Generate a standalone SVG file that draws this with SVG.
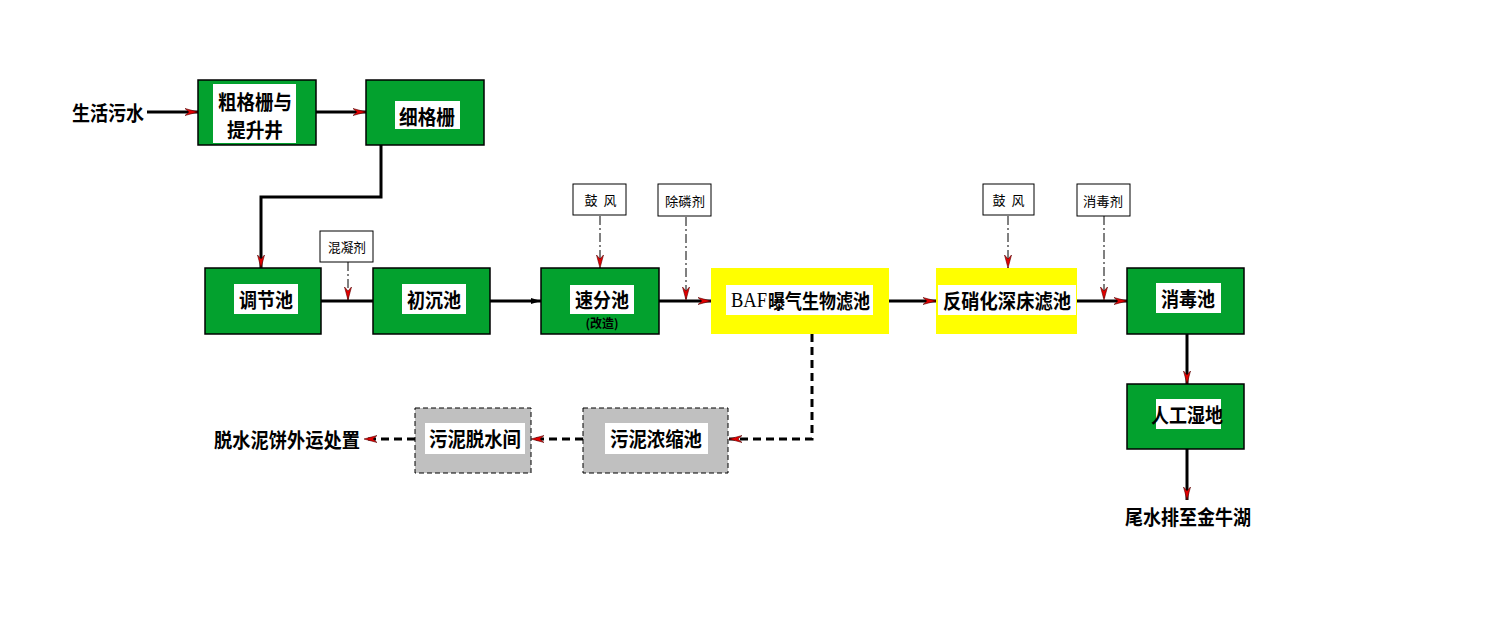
<svg xmlns="http://www.w3.org/2000/svg" width="1504" height="639" viewBox="0 0 1504 639">
<style>
.g{fill:#03A12E;stroke:#000;stroke-width:1.5}
.y{fill:#FFFF00;stroke:none}
.gr{fill:#C0C0C0;stroke:#000;stroke-width:1;stroke-dasharray:5 3}
.lb{fill:#fff;stroke:none}
.sb{fill:#fff;stroke:#000;stroke-width:1}
.t{font-family:"Noto Sans CJK SC","Noto Sans CJK JP",sans-serif;font-weight:700;font-size:20px;fill:#000;text-anchor:middle;dominant-baseline:central}
.s{font-family:"Noto Sans CJK SC","Noto Sans CJK JP",sans-serif;font-weight:400;font-size:13px;fill:#000;text-anchor:middle;dominant-baseline:central}
.f{fill:none;stroke:#000;stroke-width:3}
.d{fill:none;stroke:#000;stroke-width:1;stroke-dasharray:9 3 2 3}
.sl{fill:none;stroke:#000;stroke-width:3;stroke-dasharray:8 5}
</style>
<defs>
<marker id="a" viewBox="0 0 13 8" refX="13" refY="4" markerWidth="13" markerHeight="8" markerUnits="userSpaceOnUse" orient="auto">
<path d="M0,0.5 L13,4 L0,7.5 L4,4 Z" fill="#E00000" stroke="#500" stroke-width="0.6"/>
</marker>
<marker id="k" viewBox="0 0 10 8" refX="10" refY="4" markerWidth="10" markerHeight="8" markerUnits="userSpaceOnUse" orient="auto">
<path d="M0,1 L10,4 L0,7 Z" fill="#000"/>
</marker>
</defs>

<g id="connectors">
<path class="f" d="M147,112 H198" marker-end="url(#a)"/>
<path class="f" d="M316,112 H366" marker-end="url(#a)"/>
<path class="f" d="M381,145 V197 H261 V268" marker-end="url(#a)"/>
<path class="f" d="M321,301 H373"/>
<path class="d" d="M348,262 V300" marker-end="url(#a)"/>
<path class="f" d="M490,301 H541" marker-end="url(#k)"/>
<path class="d" d="M600,216 V268" marker-end="url(#a)"/>
<path class="f" d="M659,301 H711" marker-end="url(#a)"/>
<path class="d" d="M686,217 V300" marker-end="url(#a)"/>
<path class="f" d="M889,301 H936" marker-end="url(#a)"/>
<path class="d" d="M1008,216 V268" marker-end="url(#a)"/>
<path class="f" d="M1077,301 H1127" marker-end="url(#a)"/>
<path class="d" d="M1104,216 V300" marker-end="url(#a)"/>
<path class="f" d="M1187,334 V384" marker-end="url(#a)"/>
<path class="f" d="M1187,449 V500" marker-end="url(#a)"/>
<path class="sl" d="M812,334 V439 H729" marker-end="url(#a)"/>
<path class="sl" d="M583,439 H531" marker-end="url(#a)"/>
<path class="sl" d="M415,439 H364" marker-end="url(#a)"/>
</g>

<g id="n-source"><text class="t" x="108" y="112" textLength="72" lengthAdjust="spacingAndGlyphs">生活污水</text></g>

<g id="n-coarse">
<rect class="g" x="198" y="80" width="118" height="65"/>
<rect class="lb" x="213" y="84" width="83" height="59"/>
<text class="t" x="255" y="101" textLength="74" lengthAdjust="spacingAndGlyphs">粗格栅与</text>
<text class="t" x="255" y="129" textLength="56" lengthAdjust="spacingAndGlyphs">提升井</text>
</g>

<g id="n-fine">
<rect class="g" x="366" y="80" width="118" height="65"/>
<rect class="lb" x="395" y="101" width="65" height="28"/>
<text class="t" x="427" y="116" textLength="56" lengthAdjust="spacingAndGlyphs">细格栅</text>
</g>

<g id="n-equal">
<rect class="g" x="205" y="268" width="116" height="66"/>
<rect class="lb" x="234" y="284" width="64" height="30"/>
<text class="t" x="266" y="299" textLength="54" lengthAdjust="spacingAndGlyphs">调节池</text>
</g>

<g id="n-coag">
<rect class="sb" x="320" y="231" width="53" height="31"/>
<text class="s" x="347" y="246" textLength="38" lengthAdjust="spacingAndGlyphs">混凝剂</text>
</g>

<g id="n-primary">
<rect class="g" x="373" y="268" width="117" height="66"/>
<rect class="lb" x="402" y="284" width="64" height="30"/>
<text class="t" x="434" y="299" textLength="54" lengthAdjust="spacingAndGlyphs">初沉池</text>
</g>

<g id="n-air1">
<rect class="sb" x="573" y="184" width="53" height="31"/>
<text class="s" x="591" y="199">鼓</text>
<text class="s" x="610" y="199">风</text>
</g>

<g id="n-fast">
<rect class="g" x="541" y="268" width="118" height="66"/>
<rect class="lb" x="570" y="285" width="64" height="29"/>
<text class="t" x="602" y="299" textLength="54" lengthAdjust="spacingAndGlyphs">速分池</text>
<text class="s" x="602" y="322" style="font-weight:700;font-size:12px">(改造)</text>
</g>

<g id="n-phos">
<rect class="sb" x="658" y="184" width="53" height="32"/>
<text class="s" x="685" y="200" textLength="40" lengthAdjust="spacingAndGlyphs">除磷剂</text>
</g>

<g id="n-baf">
<rect class="y" x="711" y="268" width="178" height="66"/>
<rect class="lb" x="726" y="285" width="147" height="30"/>
<text x="731" y="307" style="font-family:'Liberation Serif',serif;font-size:20px;fill:#000" textLength="36" lengthAdjust="spacingAndGlyphs">BAF</text>
<text class="t" x="819" y="300" textLength="102" lengthAdjust="spacingAndGlyphs">曝气生物滤池</text>
</g>

<g id="n-air2">
<rect class="sb" x="983" y="184" width="51" height="31"/>
<text class="s" x="999" y="199">鼓</text>
<text class="s" x="1018" y="199">风</text>
</g>

<g id="n-denit">
<rect class="y" x="936" y="268" width="141" height="66"/>
<rect class="lb" x="938" y="285" width="138" height="30"/>
<text class="t" x="1007" y="300" textLength="128" lengthAdjust="spacingAndGlyphs">反硝化深床滤池</text>
</g>

<g id="n-disinf-agent">
<rect class="sb" x="1077" y="184" width="53" height="32"/>
<text class="s" x="1103" y="200" textLength="40" lengthAdjust="spacingAndGlyphs">消毒剂</text>
</g>

<g id="n-disinf">
<rect class="g" x="1127" y="268" width="117" height="66"/>
<rect class="lb" x="1156" y="283" width="65" height="30"/>
<text class="t" x="1188" y="298" textLength="54" lengthAdjust="spacingAndGlyphs">消毒池</text>
</g>

<g id="n-wetland">
<rect class="g" x="1127" y="384" width="117" height="65"/>
<rect class="lb" x="1156" y="399" width="65" height="30"/>
<text class="t" x="1187" y="414" textLength="72" lengthAdjust="spacingAndGlyphs">人工湿地</text>
</g>

<g id="n-outlet"><text class="t" x="1188" y="516" textLength="126" lengthAdjust="spacingAndGlyphs">尾水排至金牛湖</text></g>

<g id="n-thicken">
<rect class="gr" x="583" y="408" width="145" height="65"/>
<rect class="lb" x="605" y="423" width="103" height="31"/>
<text class="t" x="656" y="438" textLength="92" lengthAdjust="spacingAndGlyphs">污泥浓缩池</text>
</g>

<g id="n-dewater">
<rect class="gr" x="415" y="408" width="116" height="65"/>
<rect class="lb" x="425" y="423" width="100" height="31"/>
<text class="t" x="475" y="438" textLength="92" lengthAdjust="spacingAndGlyphs">污泥脱水间</text>
</g>

<g id="n-cake"><text class="t" x="287" y="439" textLength="146" lengthAdjust="spacingAndGlyphs">脱水泥饼外运处置</text></g>
</svg>
